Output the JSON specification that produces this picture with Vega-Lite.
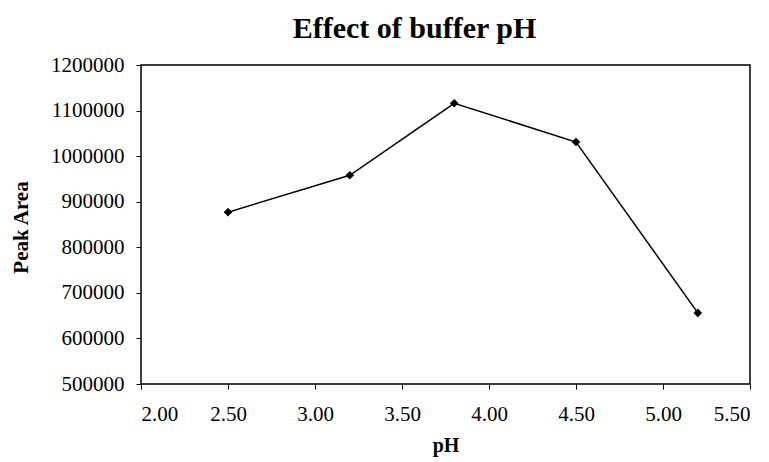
{
  "$schema": "https://vega.github.io/schema/vega-lite/v6.json",
  "width": 609,
  "height": 319,
  "autosize": {"type": "none"},
  "padding": {"left": 141, "top": 65, "right": 19, "bottom": 78},
  "background": "white",
  "config": {
    "font": "Liberation Serif",
    "view": {"stroke": "black", "strokeWidth": 1.5},
    "axis": {"grid": false, "domain": false, "tickColor": "black", "labelColor": "black", "titleColor": "black", "labelFont": "Liberation Serif", "titleFont": "Liberation Serif"}
  },
  "title": {
    "text": "Effect of buffer pH",
    "font": "Liberation Serif",
    "fontSize": 30,
    "fontWeight": "bold",
    "color": "black",
    "anchor": "middle",
    "dx": -31,
    "offset": 10
  },
  "data": {
    "values": [
      {"pH": 2.5, "area": 877000},
      {"pH": 3.2, "area": 958000},
      {"pH": 3.8, "area": 1116000},
      {"pH": 4.5, "area": 1031000},
      {"pH": 5.2, "area": 656000}
    ]
  },
  "encoding": {
    "x": {
      "field": "pH",
      "type": "quantitative",
      "scale": {"domain": [2, 5.5], "nice": false, "zero": false},
      "axis": {
        "values": [2, 2.5, 3, 3.5, 4, 4.5, 5, 5.5],
        "format": ".2f",
        "title": "pH",
        "labelFontSize": 21,
        "titleFontSize": 20,
        "titleFontWeight": "bold",
        "tickSize": 5,
        "labelPadding": 14,
        "titleY": 67,
        "titleBaseline": "alphabetic"
      }
    },
    "y": {
      "field": "area",
      "type": "quantitative",
      "scale": {"domain": [500000, 1200000], "nice": false, "zero": false},
      "axis": {
        "values": [500000, 600000, 700000, 800000, 900000, 1000000, 1100000, 1200000],
        "format": "d",
        "title": "Peak Area",
        "labelFontSize": 21,
        "titleFontSize": 21,
        "titleFontWeight": "bold",
        "tickSize": 5,
        "labelPadding": 12,
        "titleX": -120,
        "titleY": 162,
        "titleAngle": -90,
        "titleBaseline": "middle",
        "titleAlign": "center"
      }
    }
  },
  "layer": [
    {"mark": {"type": "line", "color": "black", "strokeWidth": 1.5}},
    {"mark": {"type": "point", "shape": "diamond", "filled": true, "color": "black", "size": 75, "opacity": 1}}
  ]
}
